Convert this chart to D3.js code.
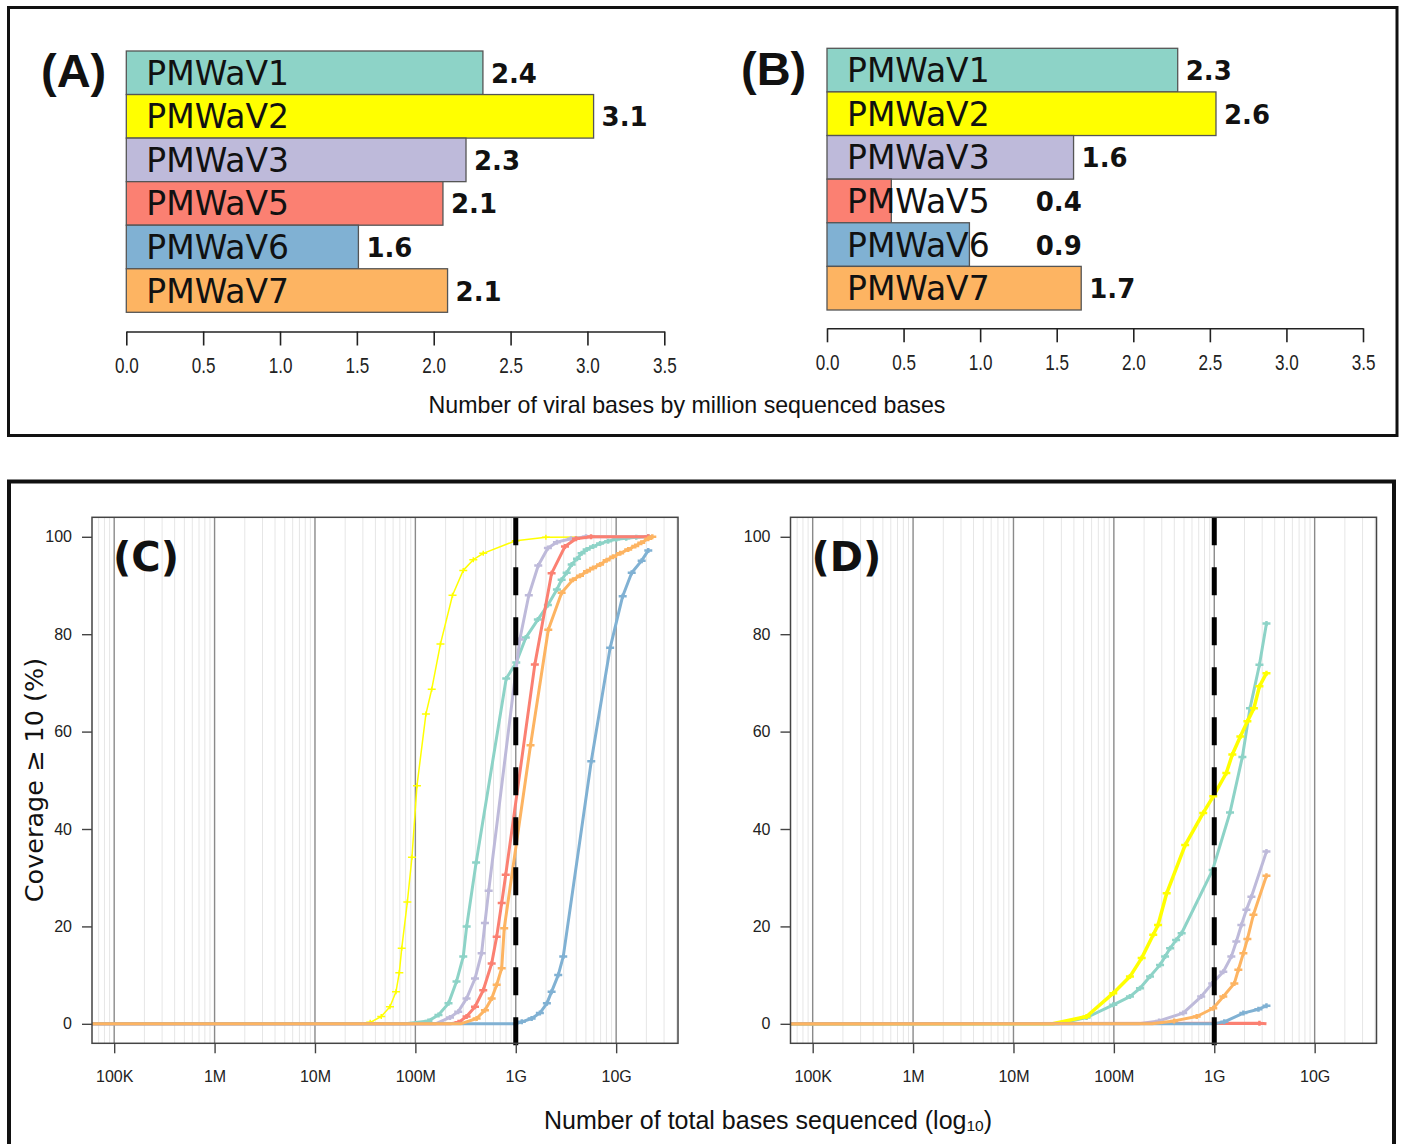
<!DOCTYPE html>
<html><head><meta charset="utf-8">
<script src="https://cdn.jsdelivr.net/npm/d3@7"></script>
<style>body{margin:0;background:#fff}</style>
</head><body>
<svg id="chart" width="1402" height="1144"></svg>
<script>
// ---------------- DATA ----------------
const viruses = ["PMWaV1", "PMWaV2", "PMWaV3", "PMWaV5", "PMWaV6", "PMWaV7"];
const colors  = ["#8DD3C7", "#FFFF00", "#BEBADA", "#FB8072", "#80B1D3", "#FDB462"];

// (A) and (B): viral bases per million sequenced bases (bar length / printed label)
const barsA   = [2.32, 3.04, 2.21, 2.06, 1.51, 2.09];
const labelsA = ["2.4", "3.1", "2.3", "2.1", "1.6", "2.1"];
const barsB   = [2.29, 2.54, 1.61, 0.42, 0.93, 1.66];
const labelsB = ["2.3", "2.6", "1.6", "0.4", "0.9", "1.7"];
const barTicks = [0, 0.5, 1.0, 1.5, 2.0, 2.5, 3.0, 3.5];

// (C) and (D): [log10(total bases sequenced), coverage >= 10 (%)]
const cV1 = [[4.7,0],[7.9,0],[8.13,0.6],[8.23,1.8],[8.33,4.2],[8.41,8.7],[8.477,13.8],[8.511,20],[8.605,33.1],[8.905,70.9],[9.005,74.2],[9.1,79.3],[9.22,83],[9.32,86],[9.41,89.2],[9.457,91.2],[9.507,92.6],[9.557,94.3],[9.61,95.5],[9.656,96.6],[9.706,97.4],[9.77,98],[9.84,98.6],[9.92,99.1],[10.0,99.5],[10.1,99.7],[10.2,99.9],[10.32,100]];
const cV2 = [[4.7,0],[7.45,0],[7.55,0.3],[7.66,1.5],[7.747,3.5],[7.807,6.6],[7.84,10.5],[7.864,15.5],[7.92,25],[7.966,34.2],[8.016,48.9],[8.105,63.6],[8.163,68.7],[8.25,78],[8.37,88],[8.477,93.1],[8.577,95.3],[8.676,96.6],[9.0,99.2],[9.3,99.9],[10.32,100]];
const cV3 = [[4.7,0],[8.2,0],[8.345,1.3],[8.427,2.5],[8.51,5.2],[8.594,9.3],[8.66,14.5],[8.693,20.7],[8.73,27.3],[9.04,78.9],[9.13,88],[9.224,94.1],[9.32,97.7],[9.41,98.9],[9.55,99.6],[9.7,100],[10.32,100]];
const cV5 = [[4.7,0],[8.35,0],[8.43,0.3],[8.51,1.5],[8.594,3.5],[8.676,6.9],[8.76,12.4],[8.81,17.9],[8.86,24.8],[8.9,30.6],[9.19,73.8],[9.357,92.5],[9.49,98],[9.6,99.6],[9.75,100],[10.32,100]];
const cV6 = [[4.7,0],[9.0,0],[9.06,0.4],[9.158,1.1],[9.24,2.2],[9.31,4.2],[9.357,6.6],[9.423,10],[9.473,13.8],[9.752,53.9],[9.94,77.2],[10.065,87.8],[10.155,92.6],[10.254,95.1],[10.32,97.2]];
const cV7 = [[4.7,0],[8.45,0],[8.61,1.1],[8.693,2.8],[8.76,5.2],[8.81,8],[8.86,11.4],[8.885,19.6],[9.147,57.2],[9.324,80.9],[9.457,88.5],[9.57,91.2],[9.64,92],[9.71,92.9],[9.77,93.6],[9.84,94.3],[9.905,95.2],[9.97,95.9],[10.04,96.6],[10.12,97.4],[10.19,98.1],[10.25,98.8],[10.32,99.6],[10.36,100]];

const dV1 = [[4.7,0],[7.45,0],[7.728,1.3],[7.994,3.9],[8.16,5.6],[8.26,7.3],[8.36,9.7],[8.46,12.1],[8.51,13.8],[8.56,15.5],[8.62,17.2],[8.675,18.6],[8.984,31.6],[9.157,43.4],[9.28,54.8],[9.356,64.8],[9.45,73.7],[9.52,82.2]];
const dV2 = [[4.7,0],[7.39,0],[7.728,1.5],[7.994,6.3],[8.16,9.7],[8.277,13.5],[8.392,18.3],[8.44,20.3],[8.526,26.8],[8.71,36.7],[8.89,43.3],[8.99,46.7],[9.12,51.5],[9.18,55.3],[9.26,59],[9.33,62.1],[9.395,64.8],[9.45,69.3],[9.52,72]];
const dV3 = [[4.7,0],[8.25,0],[8.45,0.6],[8.69,2.2],[8.87,5.6],[8.98,8.3],[9.09,10.7],[9.17,13.8],[9.22,16.9],[9.27,20.3],[9.32,23.4],[9.37,26.1],[9.52,35.4]];
const dV5 = [[4.7,0],[9.45,0.1],[9.52,0]];
const dV6 = [[4.7,0],[9.0,0],[9.1,0.4],[9.29,2.2],[9.44,3],[9.52,3.7]];
const dV7 = [[4.7,0],[8.38,0],[8.6,0.6],[8.825,1.5],[8.99,3.2],[9.09,5.6],[9.2,8.3],[9.24,11.1],[9.29,14.5],[9.33,17.4],[9.39,22.4],[9.52,30.4]];

const logTicks = [5, 6, 7, 8, 9, 10];
const logTickLabels = ["100K", "1M", "10M", "100M", "1G", "10G"];
const covTicks = [0, 20, 40, 60, 80, 100];
const thresholdLog = 9; // 1G reference line

// ---------------- DRAW ----------------
const svg = d3.select("#chart");
svg.append("rect").attr("width",1402).attr("height",1144).attr("fill","#fff");

// outer boxes
svg.append("rect").attr("x",8.5).attr("y",7.5).attr("width",1388.5).attr("height",428)
  .attr("fill","none").attr("stroke","#111").attr("stroke-width",3);
svg.append("rect").attr("x",9).attr("y",481.5).attr("width",1385).attr("height",700)
  .attr("fill","none").attr("stroke","#111").attr("stroke-width",4);

function barPanel(o){
  const g = svg.append("g");
  const x = d3.scaleLinear().domain([0,3.5]).range([o.x0,o.x1]);
  const y = d3.scaleBand().domain(viruses).range([o.yTop,o.yBot]).padding(0);
  g.selectAll("rect.bar").data(o.values).join("rect")
    .attr("x",x(0)).attr("y",(d,i)=>y(viruses[i]))
    .attr("width",d=>x(d)-x(0)).attr("height",y.bandwidth())
    .attr("fill",(d,i)=>colors[i]).attr("stroke","#555").attr("stroke-width",1.3);
  const names = g.selectAll("text.name").data(viruses).join("text")
    .attr("x",x(0)+20).attr("y",d=>y(d)+y.bandwidth()/2+12)
    .attr("font-family","DejaVu Sans").attr("font-size",33).attr("fill","#111")
    .text(d=>d);
  const ends = [];
  names.each(function(d,i){ ends[i] = x(0)+20+this.getComputedTextLength(); });
  g.selectAll("text.val").data(o.values).join("text")
    .attr("x",(d,i)=> (o.avoid ? Math.max(x(d), ends[i]+38) : x(d)) + 8)
    .attr("y",(d,i)=>y(viruses[i])+y.bandwidth()/2+10)
    .attr("font-family","DejaVu Sans").attr("font-weight","bold").attr("font-size",26).attr("fill","#111")
    .text((d,i)=>o.labels[i]);
  const ax = g.append("g").attr("transform",`translate(0,${o.axisY})`)
    .call(d3.axisBottom(x).tickValues(barTicks).tickFormat(d3.format(".1f")).tickSize(14).tickPadding(12).tickSizeOuter(0));
  ax.select(".domain").attr("stroke","#222").attr("stroke-width",1.6);
  ax.selectAll(".tick line").attr("stroke","#222").attr("stroke-width",1.6);
  ax.selectAll(".tick text").attr("font-family","Liberation Sans").attr("font-size",22.5)
    .attr("fill","#222").attr("transform","scale(0.76,1)");
  g.append("text").attr("x",o.letterX).attr("y",o.letterY)
    .attr("font-family","Liberation Sans").attr("font-weight","bold").attr("font-size",47).attr("fill","#111")
    .text(o.letter);
}
barPanel({values:barsA, labels:labelsA, x0:126.3, x1:664.3, yTop:51, yBot:312.3, axisY:331.5, letter:"(A)", letterX:41, letterY:87, avoid:false});
barPanel({values:barsB, labels:labelsB, x0:827, x1:1363, yTop:48.3, yBot:310, axisY:328.3, letter:"(B)", letterX:741, letterY:85, avoid:true});

svg.append("text").attr("x",687).attr("y",413).attr("text-anchor","middle")
  .attr("font-family","Liberation Sans").attr("font-size",23.2).attr("fill","#111")
  .text("Number of viral bases by million sequenced bases");

const yCov = d3.scaleLinear().domain([-4,104]).range([1043.3,517.3]);
const seriesC = [cV1,cV2,cV3,cV5,cV6,cV7];
const seriesD = [dV1,dV2,dV3,dV5,dV6,dV7];

function curvePanel(o){
  const g = svg.append("g");
  const x = d3.scaleLinear().domain([4.779,10.616]).range([o.left,o.left+586]);
  const [top,bot] = [yCov.range()[1], yCov.range()[0]];
  const id = "clip"+o.letter.replace(/\W/g,"");
  svg.append("clipPath").attr("id",id).append("rect")
    .attr("x",o.left).attr("y",top).attr("width",586).attr("height",bot-top);
  // minor grid
  const minor = [];
  for (let d=4; d<=10; d++) for (let k=2;k<=9;k++){ const v=d+Math.log10(k); if (v>x.domain()[0] && v<x.domain()[1]) minor.push(v); }
  g.selectAll("line.minor").data(minor).join("line")
    .attr("x1",d=>x(d)).attr("x2",d=>x(d)).attr("y1",top).attr("y2",bot)
    .attr("stroke","#e6e6e6").attr("stroke-width",1);
  g.selectAll("line.major").data(logTicks).join("line")
    .attr("x1",d=>x(d)).attr("x2",d=>x(d)).attr("y1",top).attr("y2",bot)
    .attr("stroke","#8a8a8a").attr("stroke-width",1.4);
  // curves
  const line = d3.line().x(d=>x(d[0])).y(d=>yCov(d[1]));
  const cg = g.append("g").attr("clip-path",`url(#${id})`);
  o.series.forEach((s,i)=>{
    const w = (i===1) ? o.yellowW : 3;
    cg.append("path").datum(s).attr("d",line).attr("fill","none")
      .attr("stroke",colors[i]).attr("stroke-width",w).attr("stroke-linejoin","round");
    cg.selectAll(null).data(s.filter(d=>d[1]>0.05)).join("path")
      .attr("transform",d=>`translate(${x(d[0])},${yCov(d[1])})`)
      .attr("d","M-4,0H4M0,-2.5V2.5")
      .attr("stroke",colors[i]).attr("stroke-width",i===1&&o.yellowW<2?1.5:2.5).attr("fill","none");
  });
  // 1G dashed reference
  g.append("line").attr("x1",x(thresholdLog)).attr("x2",x(thresholdLog)).attr("y1",top).attr("y2",bot+4)
    .attr("stroke","#000").attr("stroke-width",5).attr("stroke-dasharray","28,22");
  // frame
  g.append("rect").attr("x",o.left).attr("y",top).attr("width",586).attr("height",bot-top)
    .attr("fill","none").attr("stroke","#444").attr("stroke-width",1.5);
  // axes
  const ax = g.append("g").attr("transform",`translate(0,${bot})`)
    .call(d3.axisBottom(x).tickValues(logTicks).tickFormat((d,i)=>logTickLabels[i]).tickSize(10).tickPadding(17).tickSizeOuter(0));
  ax.select(".domain").remove();
  ax.selectAll(".tick line").attr("stroke","#444").attr("stroke-width",1.4);
  ax.selectAll(".tick text").attr("font-family","Liberation Sans").attr("font-size",16).attr("fill","#222");
  const ay = g.append("g").attr("transform",`translate(${o.left},0)`)
    .call(d3.axisLeft(yCov).tickValues(covTicks).tickSize(10).tickPadding(10).tickSizeOuter(0));
  ay.select(".domain").remove();
  ay.selectAll(".tick line").attr("stroke","#444").attr("stroke-width",1.4);
  ay.selectAll(".tick text").attr("font-family","Liberation Sans").attr("font-size",16).attr("fill","#222");
  g.append("text").attr("x",o.left+21).attr("y",571)
    .attr("font-family","DejaVu Sans").attr("font-weight","bold").attr("font-size",40).attr("fill","#111")
    .text(o.letter);
}
curvePanel({left:92, series:seriesC, letter:"(C)", yellowW:1.5});
curvePanel({left:790.5, series:seriesD, letter:"(D)", yellowW:3.5});

svg.append("text").attr("transform","translate(43,780) rotate(-90)").attr("text-anchor","middle")
  .attr("font-family","DejaVu Sans").attr("font-size",25.5).attr("fill","#111")
  .text("Coverage \u2265 10 (%)");

const xt = svg.append("text").attr("x",768).attr("y",1129).attr("text-anchor","middle")
  .attr("font-family","Liberation Sans").attr("font-size",25).attr("fill","#111");
xt.append("tspan").text("Number of total bases sequenced (log");
xt.append("tspan").attr("font-size",15.5).attr("dy",2).text("10");
xt.append("tspan").attr("dy",-2).text(")");
</script>
</body></html>
